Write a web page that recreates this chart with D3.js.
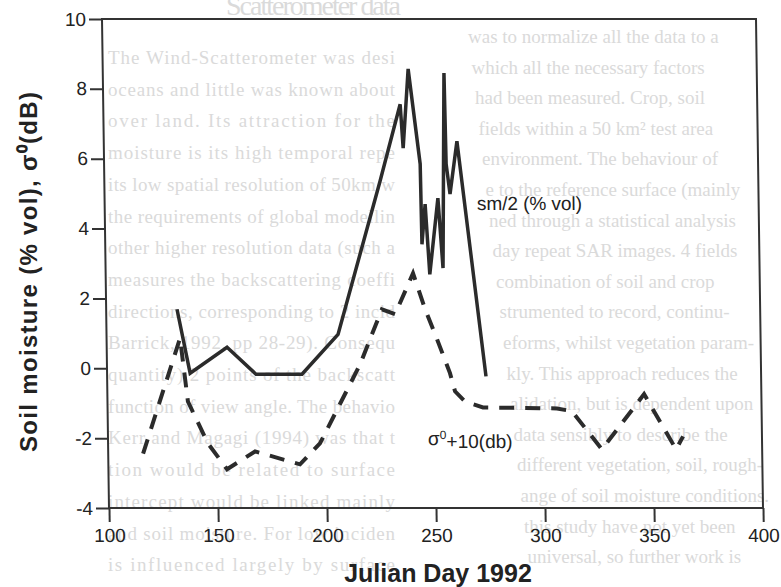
<!DOCTYPE html>
<html>
  <head>
    <meta charset="utf-8">
    <script src="https://d3js.org/d3.v7.min.js"></script>
    <style>
      body { margin: 0; background: #fff; }
      svg { display: block; }
      .axis path, .axis line { fill: none; stroke: #333; stroke-width: 2; }
      .axis text { font: 19px "Liberation Sans", Arial, sans-serif; fill: #222; }
      .page { font: 19px "Liberation Serif", "DejaVu Serif", serif; fill: #dadada; }
    </style>
  </head>
  <body>
    <script>
      // sm/2 (% vol) -- solid line
      var smDays   = [132.5, 138.1, 155.2, 168.3, 189.4, 206.2, 226.5, 236.2, 237.3, 240.1, 245.0, 245.3, 247.0, 248.7, 252.9, 254.8, 256.5, 256.9, 258.5, 262.0, 273.8];
      var smValues = [1.69, -0.14, 0.6, -0.17, -0.17, 0.97, 5.36, 7.56, 6.3, 8.57, 5.85, 3.55, 4.7, 2.69, 4.87, 2.87, 8.45, 5.85, 4.99, 6.5, -0.23];

      // sigma0 + 10 (db) -- dashed line
      var sigDays   = [116.0, 133.7, 136.9, 145.8, 154.4, 167.4, 187.9, 197.2, 216.1, 226.5, 232.5, 241.0, 246.3, 251.6, 257.3, 259.5, 264.0, 272.2, 306.2, 313.0, 326.5, 346.2, 360.5, 363.8];
      var sigValues = [-2.44, 0.86, -0.95, -2.15, -2.89, -2.38, -2.75, -2.15, 0.11, 1.69, 1.55, 2.72, 1.69, 0.83, -0.14, -0.66, -0.95, -1.12, -1.15, -1.23, -2.32, -0.74, -2.32, -1.95];

      var xTicks = [100, 150, 200, 250, 300, 350, 400];
      var yTicks = [-4, -2, 0, 2, 4, 6, 8, 10];

      // faint text of the printed page behind the figure
      var pageHeading = "Scatterometer data";
      var pageLeft = [
        "The Wind-Scatterometer was desi",
        "oceans and little was known about",
        "over land. Its attraction for the",
        "moisture is its high temporal repe",
        "its low spatial resolution of 50km w",
        "the requirements of global modellin",
        "other higher resolution data (such a",
        "measures the backscattering coeffi",
        "directions, corresponding to 2 incid",
        "Barrick, 1992, pp 28-29). Consequ",
        "quantity) 2 points of the backscatt",
        "function of view angle. The behavio",
        "Kerr and Magagi (1994) was that t",
        "tion would be related to surface",
        "intercept would be linked mainly",
        "and soil moisture. For low inciden",
        "is influenced largely by surface"
      ];
      var pageRight = [
        "was to normalize all the data to a",
        "which all the necessary factors",
        "had been measured. Crop, soil",
        "fields within a 50 km\u00b2 test area",
        "environment. The behaviour of",
        "e to the reference surface (mainly",
        "ned through a statistical analysis",
        "day repeat SAR images. 4 fields",
        "combination of soil and crop",
        "strumented to record, continu-",
        "eforms, whilst vegetation param-",
        "kly. This approach reduces the",
        "alidation, but is dependent upon",
        "data sensibly to describe the",
        "different vegetation, soil, rough-",
        "ange of soil moisture conditions.",
        "this study have not yet been",
        "universal, so further work is"
      ];

      var W = 781, H = 587;
      var margin = { left: 109, right: 763, top: 19, bottom: 508 };

      var svg = d3.select("body").append("svg")
        .attr("width", W)
        .attr("height", H);

      // page text
      var page = svg.append("g").attr("class", "page");
      page.append("text")
        .attr("x", 226).attr("y", 15)
        .attr("font-size", 28)
        .attr("textLength", 175)
        .text(pageHeading);
      page.selectAll(".pl")
        .data(pageLeft)
        .enter().append("text")
        .attr("class", "pl")
        .attr("x", 108)
        .attr("y", function(d, i) { return 64 + i * 31.7; })
        .attr("textLength", 287)
        .attr("lengthAdjust", "spacing")
        .text(function(d) { return d; });
      page.selectAll(".pr")
        .data(pageRight)
        .enter().append("text")
        .attr("class", "pr")
        .attr("x", function(d, i) { return 468 + i * 3.5; })
        .attr("y", function(d, i) { return 43 + i * 30.6; })
        .text(function(d) { return d; });

      var x = d3.scaleLinear().domain([100, 400]).range([margin.left, margin.right]);
      var y = d3.scaleLinear().domain([-4, 10]).range([margin.bottom, margin.top]);

      // the scan leans a little: top of the frame sits a few px left of the bottom
      var g = svg.append("g")
        .attr("transform", "translate(0," + margin.bottom + ") skewX(0.82) translate(0," + (-margin.bottom) + ")");

      // frame
      g.append("rect")
        .attr("x", margin.left).attr("y", margin.top)
        .attr("width", margin.right - margin.left).attr("height", margin.bottom - margin.top)
        .attr("fill", "none")
        .attr("stroke", "#333")
        .attr("stroke-width", 2);

      g.append("g")
        .attr("class", "axis")
        .attr("transform", "translate(0," + margin.bottom + ")")
        .call(d3.axisBottom(x).tickValues(xTicks).tickSize(14).tickPadding(7).tickFormat(function(d) { return String(d); }))
        .call(function(a) { a.select(".domain").remove(); });

      g.append("g")
        .attr("class", "axis")
        .attr("transform", "translate(" + margin.left + ",0)")
        .call(d3.axisLeft(y).tickValues(yTicks).tickSize(13).tickPadding(3).tickFormat(function(d) { return String(d); }))
        .call(function(a) { a.select(".domain").remove(); });

      var smData = smDays.map(function(d, i) { return [d, smValues[i]]; });
      var sigData = sigDays.map(function(d, i) { return [d, sigValues[i]]; });

      var line = d3.line()
        .x(function(d) { return x(d[0]); })
        .y(function(d) { return y(d[1]); });

      g.append("path")
        .datum(sigData)
        .attr("d", line)
        .attr("fill", "none")
        .attr("stroke", "#2b2b2b")
        .attr("stroke-width", 4)
        .attr("stroke-dasharray", "15,11");

      g.append("path")
        .datum(smData)
        .attr("d", line)
        .attr("fill", "none")
        .attr("stroke", "#2b2b2b")
        .attr("stroke-width", 3.5)
        .attr("stroke-linejoin", "miter");

      // series labels
      g.append("text")
        .attr("x", x(270.8)).attr("y", y(4.73))
        .attr("dy", "0.35em")
        .attr("font-family", "Liberation Sans, Arial, sans-serif")
        .attr("font-size", 19)
        .attr("fill", "#222")
        .attr("textLength", 105)
        .text("sm/2 (% vol)");

      var sl = g.append("text")
        .attr("x", x(246.8)).attr("y", y(-2.0))
        .attr("dy", "0.35em")
        .attr("font-family", "Liberation Sans, Arial, sans-serif")
        .attr("font-size", 19)
        .attr("fill", "#222");
      sl.append("tspan").text("\u03c3");
      sl.append("tspan").attr("dy", "-0.45em").attr("font-size", 12).text("0");
      sl.append("tspan").attr("dy", "0.45em").text("+10(db)");

      // axis titles
      svg.append("text")
        .attr("transform", "translate(37,272) rotate(-90)")
        .attr("text-anchor", "middle")
        .attr("font-family", "Liberation Sans, Arial, sans-serif")
        .attr("font-weight", "bold")
        .attr("font-size", 24)
        .attr("fill", "#222")
        .attr("textLength", 360)
        .text("Soil moisture (% vol), \u03c3\u2070(dB)");

      svg.append("text")
        .attr("x", 438).attr("y", 582)
        .attr("text-anchor", "middle")
        .attr("font-family", "Liberation Sans, Arial, sans-serif")
        .attr("font-weight", "bold")
        .attr("font-size", 25)
        .attr("fill", "#222")
        .text("Julian Day 1992");
    </script>
  </body>
</html>
